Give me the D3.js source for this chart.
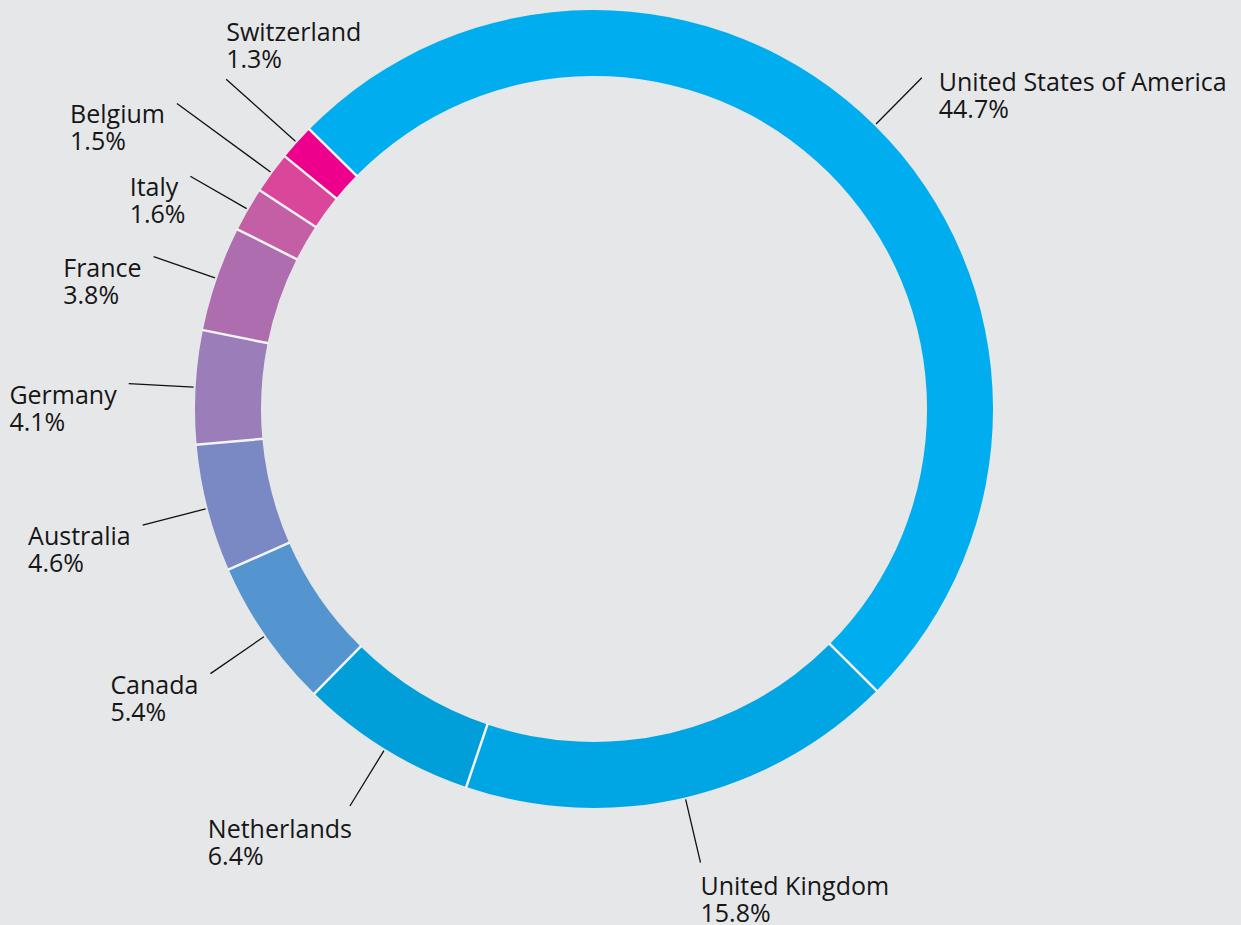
<!DOCTYPE html>
<html>
<head>
<meta charset="utf-8">
<script src="https://cdn.jsdelivr.net/npm/d3@7"></script>
<style>
  html, body { margin: 0; padding: 0; background: #E6E7E9; }
  svg { display: block; }
  text { font-family: "Open Sans", Lato, sans-serif; font-size: 25px; fill: #161616; }
</style>
</head>
<body>
<svg id="chart" width="1241" height="925"></svg>
<script>
// ---- data ----
const countries = ["United States of America", "United Kingdom", "Netherlands", "Canada", "Australia",
                   "Germany", "France", "Italy", "Belgium", "Switzerland"];
const shares = [44.7, 15.8, 6.4, 5.4, 4.6, 4.1, 3.8, 1.6, 1.5, 1.3];
const colors = ["#00AEEF", "#00A6E4", "#009FDA", "#5494CF", "#7A89C3",
                "#9A7DB9", "#AE6DAE", "#C45FA5", "#D9469A", "#EC008C"];

// ---- layout ----
const W = 1241, H = 925;
const cx = 594, cy = 409;
const rOuter = 399, rInner = 333;
const startDeg = -45.5;
const leaderEnd = {"Switzerland": 494, "Belgium": 517};
const placement = {
  "United States of America": {mode: "start", dx: 17, dy: 13},
  "United Kingdom": {mode: "start", dx: 0, dy: 32},
  "Switzerland": {mode: "start", dx: 0, dy: -38},
  "Netherlands": {mode: "end", dx: 2, dy: 32},
};

const svg = d3.select("#chart");
svg.append("rect").attr("width", W).attr("height", H).attr("fill", "#E6E7E9");
const g = svg.append("g").attr("transform", `translate(${cx},${cy})`);

const data = countries.map((c, i) => ({name: c, value: shares[i], color: colors[i]}));
const startA = startDeg * Math.PI / 180;
const pie = d3.pie().value(d => d.value).sort(null)
  .startAngle(startA).endAngle(startA + 2 * Math.PI);
const arcs = pie(data);
const arc = d3.arc().innerRadius(rInner).outerRadius(rOuter);

g.selectAll("path.seg").data(arcs).join("path")
  .attr("class", "seg")
  .attr("d", arc)
  .attr("fill", d => d.data.color);

// white separators
g.selectAll("line.sep").data(arcs).join("line")
  .attr("class", "sep")
  .attr("x1", d => (rInner - 1) * Math.sin(d.startAngle))
  .attr("y1", d => -(rInner - 1) * Math.cos(d.startAngle))
  .attr("x2", d => (rOuter + 1) * Math.sin(d.startAngle))
  .attr("y2", d => -(rOuter + 1) * Math.cos(d.startAngle))
  .attr("stroke", "#F4F4F4")
  .attr("stroke-width", 2.5);

// leader lines + labels
const fmt = v => v.toFixed(1) + "%";
arcs.forEach(d => {
  const a = (d.startAngle + d.endAngle) / 2;
  const r1 = 401, r2 = leaderEnd[d.data.name] || 466;
  const x1 = r1 * Math.sin(a), y1 = -r1 * Math.cos(a);
  const x2 = r2 * Math.sin(a), y2 = -r2 * Math.cos(a);
  g.append("line")
    .attr("x1", x1).attr("y1", y1).attr("x2", x2).attr("y2", y2)
    .attr("stroke", "#111").attr("stroke-width", 1.3);

  const p = placement[d.data.name] || {mode: "end", dx: -12, dy: 20};
  const t1 = g.append("text").text(d.data.name);
  const t2 = g.append("text").text(fmt(d.data.value));
  const ty = y2 + p.dy;
  let tx;
  if (p.mode === "start") {
    tx = x2 + p.dx;
  } else {
    tx = x2 + p.dx - t1.node().getComputedTextLength();
  }
  t1.attr("x", tx).attr("y", ty);
  t2.attr("x", tx).attr("y", ty + 27);
});
</script>
</body>
</html>
